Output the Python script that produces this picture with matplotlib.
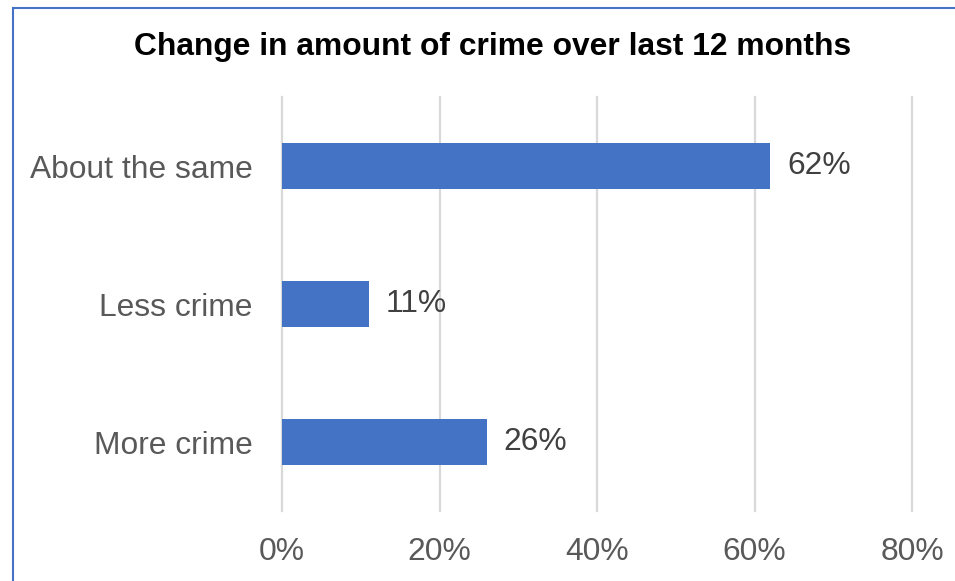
import matplotlib.pyplot as plt
from matplotlib.lines import Line2D

plt.rcParams['font.family'] = ['Liberation Sans', 'DejaVu Sans']

# survey answers, top to bottom
categories = ["About the same", "Less crime", "More crime"]
shares = [62, 11, 26]
ticks = [0, 20, 40, 60, 80]
tick_labels = [f"{t}%" for t in ticks]

bar_colour = "#4472C4"
grid_colour = "#d9d9d9"

fig = plt.figure(figsize=(9.55, 5.81), dpi=100)
ax = fig.add_axes([282 / 955, 1 - 511 / 581, 630 / 955, 414 / 581])

y = list(range(len(categories)))
bars = ax.barh(y, shares, height=0.34, color=bar_colour, zorder=3)
ax.bar_label(bars, labels=[f"{v}%" for v in shares], padding=12,
             fontsize=22.9, color="#404040")

ax.set_xlim(0, 80)
ax.set_ylim(2.5, -0.5)
ax.set_yticks(y)
ax.set_yticklabels(categories)
ax.set_xticks(ticks)
ax.set_xticklabels(tick_labels)
ax.tick_params(axis="y", length=0, pad=21, labelsize=22.9, labelcolor="#595959")
ax.tick_params(axis="x", length=0, pad=19, labelsize=22.9, labelcolor="#595959")

for t in ticks:
    ax.axvline(t, color=grid_colour, lw=1.6, zorder=1, clip_on=False)
for s in ax.spines.values():
    s.set_visible(False)

fig.text(493 / 955, 1 - 55 / 581, "Change in amount of crime over last 12 months",
         ha="center", va="baseline", fontsize=22.9, fontweight="bold", color="black")

# blue frame along the top and left edges
top = 1 - 7.5 / 581
left = 12.5 / 955
fig.add_artist(Line2D([left, 1], [top, top], color=bar_colour, lw=1.5))
fig.add_artist(Line2D([left, left], [0, top], color=bar_colour, lw=1.5))

fig.savefig("out.png", dpi=100)
